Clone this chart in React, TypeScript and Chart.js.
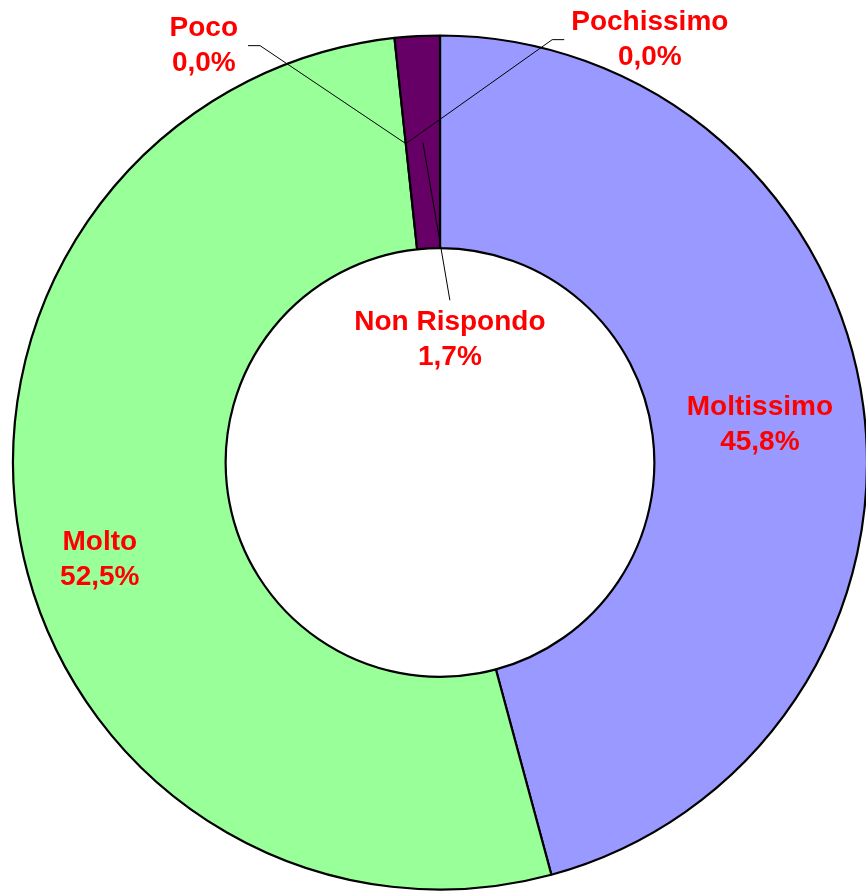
import React, { useEffect, useRef } from "react";
import { Chart, registerables } from "chart.js";

Chart.register(...registerables);

const categories = ["Moltissimo", "Molto", "Poco", "Pochissimo", "Non Rispondo"];
const percentages = [45.8, 52.5, 0.0, 0.0, 1.7];
const sliceColors = ["#9999FF", "#99FF99", "#FFFFCC", "#CCFFFF", "#660066"];

// label placement relative to the slice anchor (offset of text centre)
const labelOffsets = [
  { dx: 2, dy: 4, leader: false },
  { dx: -25, dy: 38, leader: false },
  { dx: -202, dy: -98, leader: true },
  { dx: 244, dy: -104, leader: true },
  { dx: 27, dy: 198, leader: true },
];

const fmt = (v: number) => v.toFixed(1).replace(".", ",") + "%";

const labelPlugin = {
  id: "sliceLabels",
  afterDatasetsDraw(chart: any) {
    const ctx = chart.ctx;
    const meta = chart.getDatasetMeta(0);
    const fontSize = 28;
    const lineH = 35;
    ctx.save();
    ctx.font = `bold ${fontSize}px Arial, "Liberation Sans", sans-serif`;
    ctx.textAlign = "center";
    ctx.textBaseline = "middle";
    meta.data.forEach((arc: any, i: number) => {
      const { x, y, startAngle, endAngle, innerRadius, outerRadius } = arc.getProps(
        ["x", "y", "startAngle", "endAngle", "innerRadius", "outerRadius"],
        true
      );
      const mid = (startAngle + endAngle) / 2;
      const r = (innerRadius + outerRadius) / 2;
      const ax = x + Math.cos(mid) * r;
      const ay = y + Math.sin(mid) * r;
      const off = labelOffsets[i];
      const cx = ax + off.dx;
      const cy = ay + off.dy;
      const lines = [categories[i], fmt(percentages[i])];
      const w = Math.max(...lines.map((l) => ctx.measureText(l).width));
      const top = cy - lineH;
      if (off.leader) {
        ctx.strokeStyle = "#000";
        ctx.lineWidth = 1;
        ctx.beginPath();
        if (top > ay) {
          ctx.moveTo(ax, ay);
          ctx.lineTo(cx, top - 5);
        } else if (cx < ax) {
          const ex = cx + w / 2 + 10;
          ctx.moveTo(ex, cy);
          ctx.lineTo(ex + 12, cy);
          ctx.lineTo(ax, ay);
        } else {
          const ex = cx - w / 2 - 7;
          ctx.moveTo(ex, cy);
          ctx.lineTo(ex - 12, cy);
          ctx.lineTo(ax, ay);
        }
        ctx.stroke();
      }
      ctx.fillStyle = "#FF0000";
      ctx.fillText(lines[0], cx, cy - lineH / 2);
      ctx.fillText(lines[1], cx, cy + lineH / 2);
    });
    ctx.restore();
  },
};

export default function App() {
  const ref = useRef<HTMLCanvasElement | null>(null);
  useEffect(() => {
    if (!ref.current) return;
    const chart = new Chart(ref.current, {
      type: "doughnut",
      data: {
        labels: categories,
        datasets: [
          {
            data: percentages,
            backgroundColor: sliceColors,
            borderColor: "#000000",
            borderWidth: 2.2,
            hoverOffset: 0,
            offset: 0,
          },
        ],
      },
      options: {
        animation: false,
        responsive: false,
        maintainAspectRatio: false,
        radius: 427,
        cutout: "50.2%",
        rotation: 0,
        layout: { padding: { left: 14, right: 0, top: 34, bottom: 0 } },
        plugins: {
          legend: { display: false },
          tooltip: { enabled: false },
        },
        events: [],
      } as any,
      plugins: [labelPlugin],
    });
    return () => chart.destroy();
  }, []);
  return (
    <div
      style={{
        position: "fixed",
        left: 0,
        top: 0,
        width: 866,
        height: 891,
        overflow: "hidden",
        background: "#fff",
      }}
    >
      <canvas ref={ref} width={866} height={891} style={{ display: "block" }} />
    </div>
  );
}
